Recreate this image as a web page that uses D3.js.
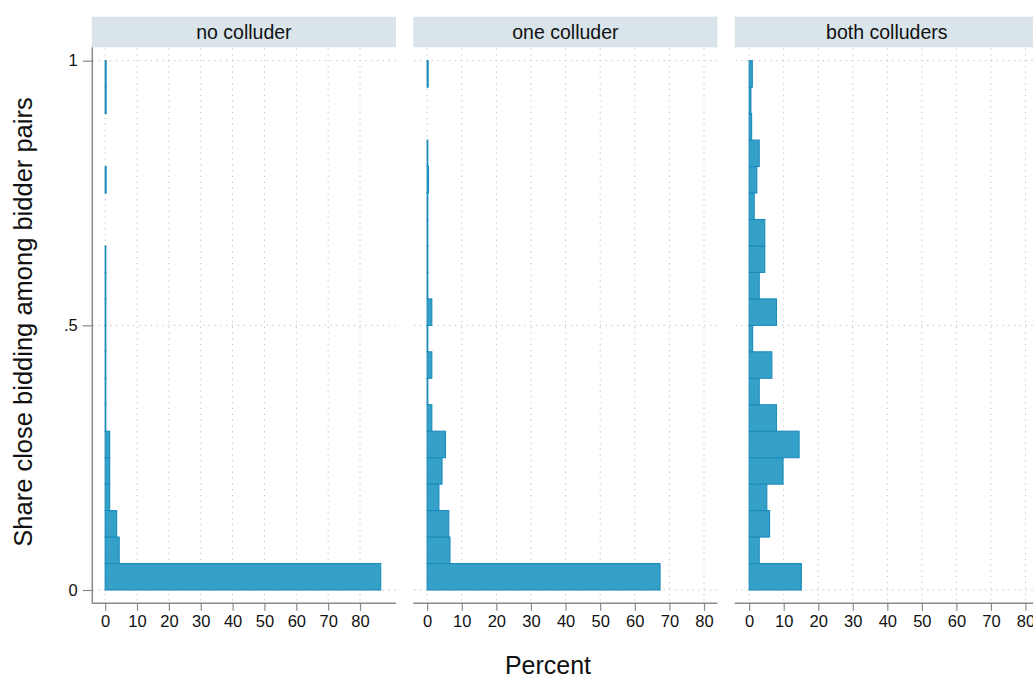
<!DOCTYPE html>
<html>
<head>
<meta charset="utf-8">
<script src="https://cdn.jsdelivr.net/npm/d3@7"></script>
<style>
  html, body { margin: 0; padding: 0; background: #fff; }
  svg { display: block; font-family: "Liberation Sans", Arial, Helvetica, sans-serif; }
</style>
</head>
<body>
<svg id="chart" width="1033" height="679"></svg>
<script>
// ---- data ----
const panels = ["no colluder", "one colluder", "both colluders"];
// bin lower edges (width 0.05), share close bidding
const binEdges = [0, 0.05, 0.1, 0.15, 0.2, 0.25, 0.3, 0.35, 0.4, 0.45, 0.5, 0.55, 0.6, 0.65, 0.7, 0.75, 0.8, 0.85, 0.9, 0.95];
const binWidth = 0.05;
// percent per bin
const noColluder   = [86.5, 4.4, 3.6, 1.4, 1.4, 1.4, 0.2, 0.2, 0.2, 0.2, 0.2, 0.2, 0.2, 0, 0, 0.3, 0, 0, 0.3, 0.3];
const oneColluder  = [67.3, 6.6, 6.25, 3.4, 4.3, 5.3, 1.35, 0.2, 1.35, 0.2, 1.35, 0.2, 0.2, 0.2, 0.2, 0.4, 0.2, 0, 0, 0.3];
const bothColluders = [15.1, 2.9, 5.9, 5.1, 9.8, 14.45, 7.9, 2.9, 6.55, 1.0, 7.9, 2.9, 4.5, 4.5, 1.45, 2.2, 2.9, 0.7, 0.5, 0.9];
const seriesValues = [noColluder, oneColluder, bothColluders];
const xTicks = [0, 10, 20, 30, 40, 50, 60, 70, 80];
const yTicks = [0, 0.5, 1];
const yTickLabels = ["0", ".5", "1"];
// per-panel x domains
const xDomains = [[-4.2, 91.3], [-4.0, 83.9], [-4.2, 83.9]];

// ---- layout ----
const svg = d3.select("#chart");
const panelLeft = [91.8, 413.3, 734.7];
const panelW = 304.2;
const plotTop = 47.3, plotBottom = 602.8;
const stripTop = 16.7;

const y = d3.scaleLinear().domain([0, 1]).range([590, 60.7]);

const gridColor = "#bdbdbd";
const axisColor = "#8a8a8a";
const fillColor = "#35a1c9";
const strokeColor = "#1a8bbb";
const fontFam = "Liberation Sans, Arial, sans-serif";

panels.forEach((name, i) => {
  const x0 = panelLeft[i];
  const x = d3.scaleLinear().domain(xDomains[i]).range([x0, x0 + panelW]);
  const g = svg.append("g");

  // strip
  g.append("rect").attr("x", x0).attr("y", stripTop).attr("width", panelW).attr("height", plotTop - stripTop)
    .attr("fill", "#d9e5eb");
  g.append("text").attr("x", x0 + panelW / 2).attr("y", 39).attr("text-anchor", "middle")
    .attr("font-size", 19.5).attr("fill", "#111").text(name);

  // grid
  g.selectAll(".vg").data(xTicks).enter().append("line")
    .attr("x1", d => x(d)).attr("x2", d => x(d)).attr("y1", plotTop + 1).attr("y2", plotBottom - 1)
    .attr("stroke", gridColor).attr("stroke-width", 1).attr("stroke-dasharray", "1.2,4.6");
  g.selectAll(".hg").data(yTicks).enter().append("line")
    .attr("x1", x0 + 1).attr("x2", x0 + panelW).attr("y1", d => y(d)).attr("y2", d => y(d))
    .attr("stroke", gridColor).attr("stroke-width", 1).attr("stroke-dasharray", "1.2,4.6");

  // bars
  const vals = seriesValues[i];
  g.selectAll(".bar").data(binEdges.map((b, k) => ({ b, v: vals[k] })).filter(d => d.v > 0))
    .enter().append("rect")
    .attr("x", x(0))
    .attr("y", d => y(d.b + binWidth))
    .attr("width", d => Math.max(0, x(d.v) - x(0)))
    .attr("height", d => y(d.b) - y(d.b + binWidth))
    .attr("fill", fillColor).attr("stroke", strokeColor).attr("stroke-width", 1.1);

  // x axis
  const xAxis = d3.axisBottom(x).tickValues(xTicks).tickSize(8).tickPadding(4).tickFormat(d3.format("d"));
  const ax = g.append("g").attr("transform", `translate(0,${plotBottom})`).call(xAxis);
  ax.select(".domain").attr("d", `M${x0},0.5H${x0 + panelW}`).attr("stroke", axisColor).attr("stroke-width", 1.5);
  ax.selectAll(".tick line").attr("stroke", axisColor).attr("stroke-width", 1.2);
  ax.selectAll(".tick text").attr("font-size", 16.5).attr("fill", "#111").attr("font-family", fontFam);
});

// y axis on first panel
const yAxis = d3.axisLeft(y).tickValues(yTicks).tickSize(9).tickPadding(5)
  .tickFormat((d, k) => yTickLabels[k]);
const ay = svg.append("g").attr("transform", `translate(${panelLeft[0]},0)`).call(yAxis);
ay.select(".domain").attr("d", `M0.5,${plotTop}V${plotBottom + 0.5}`).attr("stroke", axisColor).attr("stroke-width", 1.5);
ay.selectAll(".tick line").attr("stroke", axisColor).attr("stroke-width", 1.2);
ay.selectAll(".tick text").attr("font-size", 16.5).attr("fill", "#111").attr("font-family", fontFam);

// axis titles
svg.append("text").attr("x", 548).attr("y", 674).attr("text-anchor", "middle")
  .attr("font-size", 25).attr("fill", "#111").text("Percent");
svg.append("text").attr("transform", "translate(32,322) rotate(-90)").attr("text-anchor", "middle")
  .attr("font-size", 25.5).attr("fill", "#111").text("Share close bidding among bidder pairs");
</script>
</body>
</html>
